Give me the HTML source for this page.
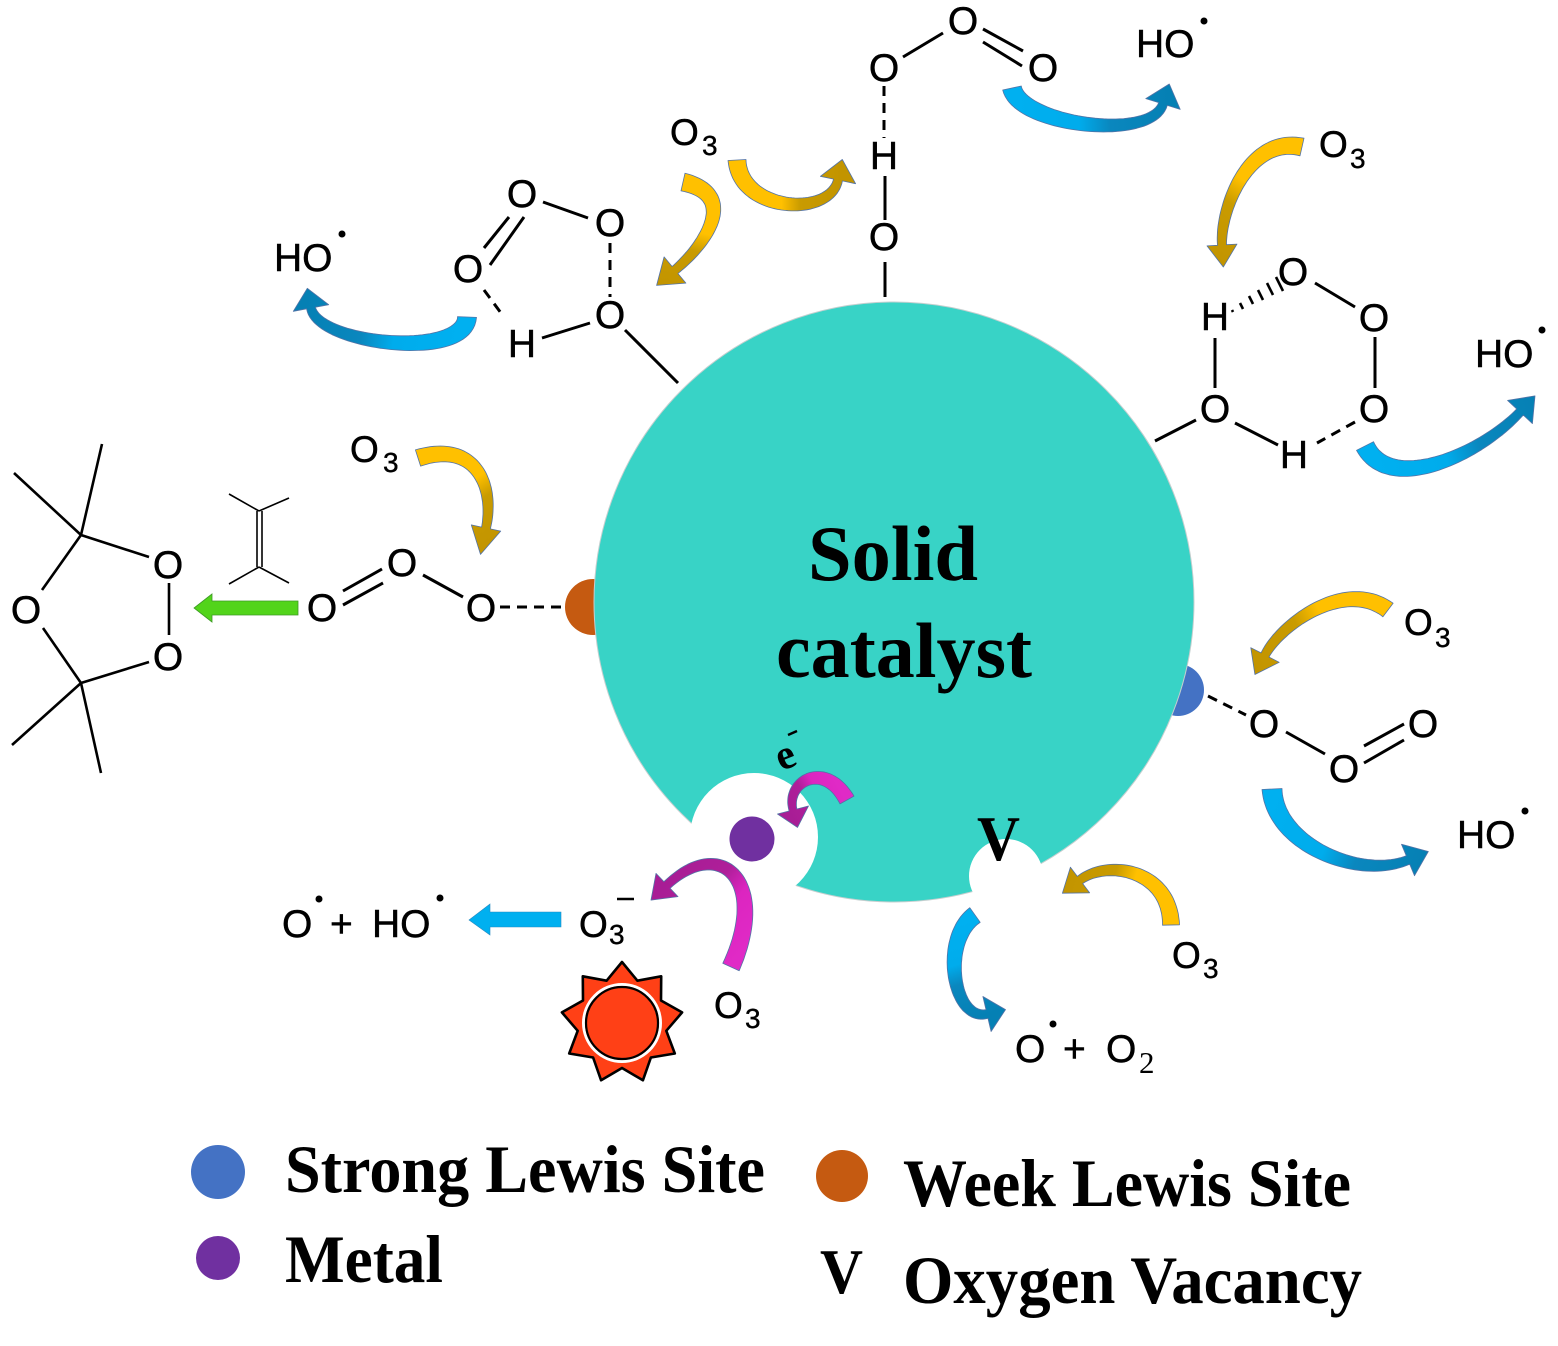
<!DOCTYPE html>
<html><head><meta charset="utf-8">
<style>
html,body{margin:0;padding:0;background:#fff;}
svg{display:block;}
.c{font-family:"Liberation Sans",Arial,sans-serif;font-size:39px;fill:#000;stroke:#000;stroke-width:0.5;}
.o{font-family:"Liberation Sans",Arial,sans-serif;font-size:37px;fill:#000;stroke:#000;stroke-width:0.5;}
.s{font-family:"Liberation Sans",Arial,sans-serif;font-size:28px;fill:#000;stroke:#000;stroke-width:0.4;}
.t{font-family:"Liberation Serif","Times New Roman",serif;font-weight:bold;fill:#000;}
.l{stroke:#000;stroke-width:3;fill:none;}
.d{stroke:#000;stroke-width:3;fill:none;stroke-dasharray:10 7;}
.th{stroke:#000;stroke-width:2.6;fill:none;}
.tn{stroke:#000;stroke-width:1.6;fill:none;}
</style></head><body>
<svg id="s" width="1558" height="1346" viewBox="0 0 1558 1346" xmlns="http://www.w3.org/2000/svg">
<defs id="dfs"></defs>
<rect width="1558" height="1346" fill="#fff"/>

<!-- Lewis site dots under catalyst -->
<circle cx="593" cy="607" r="28" fill="#C55A11"/>
<circle cx="1178" cy="690" r="26" fill="#4472C4"/>

<!-- catalyst -->
<circle cx="894" cy="602" r="300" fill="#38D3C6" stroke="#c4cfcf" stroke-width="1"/>
<circle cx="754" cy="837" r="64" fill="#fff"/>
<circle cx="1006" cy="876" r="37" fill="#fff"/>
<circle cx="752" cy="839" r="22.5" fill="#7030A0"/>

<text class="t" x="808" y="580" font-size="78" textLength="170" lengthAdjust="spacingAndGlyphs">Solid</text>
<text class="t" x="776" y="677" font-size="78" textLength="256" lengthAdjust="spacingAndGlyphs">catalyst</text>
<text class="t" x="977" y="860" font-size="64" textLength="43" lengthAdjust="spacingAndGlyphs">V</text>
<text class="t" x="776" y="768" font-size="42" transform="rotate(-22 787 756)">e</text>
<line x1="788" y1="735" x2="797" y2="731" stroke="#000" stroke-width="2.4"/>

<!-- Top chain -->
<line class="l" x1="885" y1="262" x2="885" y2="297"/>
<line class="l" x1="885" y1="176" x2="885" y2="220"/>
<line class="d" x1="884" y1="86" x2="884" y2="138"/>
<line class="l" x1="903" y1="57" x2="943" y2="33"/>
<line class="l" x1="983" y1="29" x2="1023" y2="51"/>
<line class="l" x1="983" y1="42" x2="1022" y2="66"/>
<text class="c" x="884" y="81" text-anchor="middle">O</text>
<text class="c" x="884" y="169" text-anchor="middle">H</text>
<text class="c" x="884" y="250" text-anchor="middle">O</text>
<text class="c" x="963" y="34" text-anchor="middle">O</text>
<text class="c" x="1043" y="81" text-anchor="middle">O</text>
<text class="c" x="1136" y="57">HO</text>
<circle cx="1204" cy="21" r="3.5" fill="#000"/>

<!-- Top-left ring -->
<line class="l" x1="543" y1="202" x2="588" y2="218"/>
<line class="l" x1="484" y1="248" x2="509" y2="217"/>
<line class="l" x1="490" y1="265" x2="524" y2="217"/>
<line class="d" x1="610" y1="243" x2="610" y2="297"/>
<line class="d" x1="484" y1="290" x2="501" y2="313"/>
<line class="l" x1="542" y1="338" x2="590" y2="323"/>
<line class="l" x1="625" y1="330" x2="678" y2="383"/>
<text class="c" x="522" y="207" text-anchor="middle">O</text>
<text class="c" x="610" y="236" text-anchor="middle">O</text>
<text class="c" x="468" y="282" text-anchor="middle">O</text>
<text class="c" x="610" y="328" text-anchor="middle">O</text>
<text class="c" x="522" y="357" text-anchor="middle">H</text>
<text class="c" x="274" y="271">HO</text>
<circle cx="342" cy="234" r="3.5" fill="#000"/>
<text class="o" x="670" y="145">O</text><text class="s" x="702" y="155">3</text>

<!-- Top-right ring -->
<line class="l" x1="1315" y1="283" x2="1355" y2="307"/>
<line class="l" x1="1375" y1="337" x2="1375" y2="388"/>
<line class="d" x1="1355" y1="422" x2="1317" y2="443"/>
<line class="l" x1="1278" y1="445" x2="1235" y2="423"/>
<line class="l" x1="1215" y1="338" x2="1215" y2="388"/>
<line class="l" x1="1196" y1="420" x2="1155" y2="441"/>
<g stroke="#000" stroke-width="2.6">
<line x1="1232" y1="310" x2="1233" y2="312"/>
<line x1="1240" y1="303" x2="1243" y2="309"/>
<line x1="1249" y1="296" x2="1253" y2="304"/>
<line x1="1258" y1="290" x2="1263" y2="300"/>
<line x1="1267" y1="283" x2="1273" y2="295"/>
<line x1="1276" y1="277" x2="1283" y2="291"/>
</g>
<text class="c" x="1293" y="285" text-anchor="middle">O</text>
<text class="c" x="1374" y="331" text-anchor="middle">O</text>
<text class="c" x="1374" y="422" text-anchor="middle">O</text>
<text class="c" x="1215" y="422" text-anchor="middle">O</text>
<text class="c" x="1215" y="330" text-anchor="middle">H</text>
<text class="c" x="1294" y="468" text-anchor="middle">H</text>
<text class="c" x="1475" y="367">HO</text>
<circle cx="1542" cy="330" r="3.5" fill="#000"/>
<text class="o" x="1319" y="157">O</text><text class="s" x="1350" y="168">3</text>

<!-- Left: weak lewis site -->
<line class="l" x1="423" y1="575" x2="463" y2="597"/>
<line class="l" x1="343" y1="591" x2="382" y2="569"/>
<line class="l" x1="343" y1="605" x2="383" y2="583"/>
<line class="d" x1="500" y1="607" x2="563" y2="607"/>
<text class="c" x="481" y="621" text-anchor="middle">O</text>
<text class="c" x="402" y="576" text-anchor="middle">O</text>
<text class="c" x="322" y="621" text-anchor="middle">O</text>
<text class="o" x="350" y="462">O</text><text class="s" x="383" y="472">3</text>
<!-- alkene -->
<line class="tn" x1="257" y1="511" x2="257" y2="567"/>
<line class="tn" x1="262" y1="511" x2="262" y2="567"/>
<line class="tn" x1="259" y1="511" x2="229" y2="494"/>
<line class="tn" x1="259" y1="511" x2="289" y2="498"/>
<line class="tn" x1="259" y1="567" x2="229" y2="584"/>
<line class="tn" x1="259" y1="567" x2="289" y2="583"/>
<!-- green arrow -->
<polygon points="298,601 212,601 212,594 194,608 212,622 212,615 298,615" fill="#52D41A" stroke="#3c9a24" stroke-width="0.8"/>
<!-- ozonide -->
<line class="th" x1="81" y1="535" x2="149" y2="557"/>
<line class="th" x1="81" y1="535" x2="42" y2="590"/>
<line class="th" x1="81" y1="535" x2="14" y2="473"/>
<line class="th" x1="81" y1="535" x2="102" y2="444"/>
<line class="th" x1="169" y1="583" x2="169" y2="635"/>
<line class="th" x1="81" y1="683" x2="149" y2="662"/>
<line class="th" x1="81" y1="683" x2="43" y2="628"/>
<line class="th" x1="81" y1="683" x2="12" y2="745"/>
<line class="th" x1="81" y1="683" x2="101" y2="773"/>
<text class="c" x="168" y="578" text-anchor="middle">O</text>
<text class="c" x="168" y="670" text-anchor="middle">O</text>
<text class="c" x="26" y="623" text-anchor="middle">O</text>

<!-- Right: strong lewis site -->
<line class="d" x1="1208" y1="696" x2="1246" y2="715"/>
<line class="l" x1="1286" y1="732" x2="1325" y2="754"/>
<line class="l" x1="1364" y1="746" x2="1404" y2="724"/>
<line class="l" x1="1364" y1="763" x2="1404" y2="740"/>
<text class="c" x="1264" y="737" text-anchor="middle">O</text>
<text class="c" x="1344" y="782" text-anchor="middle">O</text>
<text class="c" x="1423" y="737" text-anchor="middle">O</text>
<text class="o" x="1404" y="635">O</text><text class="s" x="1435" y="647">3</text>
<text class="c" x="1457" y="848">HO</text>
<circle cx="1525" cy="811" r="3.5" fill="#000"/>

<!-- Bottom left -->
<text class="o" x="579" y="937">O</text><text class="s" x="609" y="944">3</text>
<line x1="617" y1="899" x2="634" y2="899" stroke="#000" stroke-width="2.5"/>
<polygon points="561,912 490,912 490,904 469,920 490,935 490,927 561,927" fill="#00B0F0" stroke="#2a8ac0" stroke-width="0.6"/>
<text class="c" x="282" y="937">O</text>
<circle cx="319" cy="899" r="3.5" fill="#000"/>
<text class="c" x="330" y="937">+</text>
<text class="c" x="372" y="937">HO</text>
<circle cx="440" cy="898" r="3.5" fill="#000"/>
<g id="sun"></g>
<text class="o" x="714" y="1018">O</text><text class="s" x="745" y="1028">3</text>

<!-- Bottom right -->
<text class="o" x="1172" y="968">O</text><text class="s" x="1203" y="978">3</text>
<text class="c" x="1015" y="1062">O</text>
<circle cx="1053" cy="1024" r="3.5" fill="#000"/>
<text class="c" x="1063" y="1062">+</text>
<text class="c" x="1106" y="1062">O</text>
<text x="1139" y="1073" font-family="Liberation Serif, serif" font-size="31">2</text>

<g id="arr"></g>

<!-- Legend -->
<circle cx="218" cy="1172" r="27" fill="#4472C4"/>
<circle cx="842" cy="1176" r="26" fill="#C55A11"/>
<circle cx="218" cy="1258" r="22" fill="#7030A0"/>
<text class="t" x="285" y="1192" font-size="68" textLength="480" lengthAdjust="spacingAndGlyphs">Strong Lewis Site</text>
<text class="t" x="903" y="1206" font-size="68" textLength="448" lengthAdjust="spacingAndGlyphs">Week Lewis Site</text>
<text class="t" x="285" y="1282" font-size="68" textLength="158" lengthAdjust="spacingAndGlyphs">Metal</text>
<text class="t" x="820" y="1293" font-size="64" textLength="43" lengthAdjust="spacingAndGlyphs">V</text>
<text class="t" x="903" y="1303" font-size="68" textLength="459" lengthAdjust="spacingAndGlyphs">Oxygen Vacancy</text>
</svg>
<script>
(function(){
var NS='http://www.w3.org/2000/svg';
var g=document.getElementById('arr'),defs=document.getElementById('dfs');
var S={
y:[[0,'#FFC000'],[0.42,'#FFC000'],[0.6,'#C99B00'],[1,'#C29400']],
b:[[0,'#00B0F0'],[0.42,'#00ACEC'],[0.62,'#0A87BE'],[1,'#0580B4']],
m:[[0,'#E02AC6'],[0.38,'#DC25C0'],[0.62,'#AF1F9A'],[1,'#A81D95']]
};
function bz(p,t){var u=1-t,a=u*u*u,b=3*u*u*t,c=3*u*t*t,d=t*t*t;return [a*p[0][0]+b*p[1][0]+c*p[2][0]+d*p[3][0],a*p[0][1]+b*p[1][1]+c*p[2][1]+d*p[3][1]];}
function db(p,t){var u=1-t;return [3*u*u*(p[1][0]-p[0][0])+6*u*t*(p[2][0]-p[1][0])+3*t*t*(p[3][0]-p[2][0]),3*u*u*(p[1][1]-p[0][1])+6*u*t*(p[2][1]-p[1][1])+3*t*t*(p[3][1]-p[2][1])];}
var k=0;
function A(p,w0,w1,L,H,sc){
 var N=48,lf=[],rt=[],i,t,q,d,l,nx,ny,w;
 for(i=0;i<=N;i++){t=i/N;q=bz(p,t);d=db(p,t);l=Math.sqrt(d[0]*d[0]+d[1]*d[1])||1;nx=-d[1]/l;ny=d[0]/l;w=(w0+(w1-w0)*t)/2;lf.push([q[0]+nx*w,q[1]+ny*w]);rt.push([q[0]-nx*w,q[1]-ny*w]);}
 d=[p[3][0]-p[2][0],p[3][1]-p[2][1]];l=Math.sqrt(d[0]*d[0]+d[1]*d[1]);var ux=d[0]/l,uy=d[1]/l;nx=-uy;ny=ux;
 var e=p[3],tip=[e[0]+ux*L,e[1]+uy*L];
 var pts=lf.concat([[e[0]+nx*H,e[1]+ny*H],tip,[e[0]-nx*H,e[1]-ny*H]]).concat(rt.reverse());
 var id='ag'+(k++);
 var lg=document.createElementNS(NS,'linearGradient');lg.setAttribute('id',id);lg.setAttribute('gradientUnits','userSpaceOnUse');
 lg.setAttribute('x1',p[0][0]);lg.setAttribute('y1',p[0][1]);lg.setAttribute('x2',tip[0]);lg.setAttribute('y2',tip[1]);
 S[sc].forEach(function(s){var st=document.createElementNS(NS,'stop');st.setAttribute('offset',s[0]);st.setAttribute('stop-color',s[1]);lg.appendChild(st);});
 defs.appendChild(lg);
 var pa=document.createElementNS(NS,'path');
 pa.setAttribute('d','M'+pts.map(function(a){return a[0].toFixed(1)+','+a[1].toFixed(1);}).join('L')+'Z');
 pa.setAttribute('fill','url(#'+id+')');pa.setAttribute('stroke','#5373a6');pa.setAttribute('stroke-width','0.8');pa.setAttribute('stroke-linejoin','round');
 g.appendChild(pa);
}
// blue arrows
A([[1012,88],[1020,125],[1151,142],[1163,104]],19,9,21,18,'b');
A([[467,317],[465,360],[318,345],[311,308]],19,9,20,18,'b');
A([[1365,446],[1390,495],[1480,455],[1520,412]],19,9,22,17,'b');
A([[1272,789],[1275,845],[1360,880],[1408,860]],20,9,22,17,'b');
A([[975,915],[940,940],[953,1022],[987,1014]],18,9,19,18,'b');
// yellow arrows
A([[683,182],[740,195],[705,245],[675,270]],18,9,24,17,'y');
A([[737,160],[740,212],[830,218],[838,180]],18,9,21,18,'y');
A([[1302,147],[1248,135],[1220,210],[1222,245]],18,9,22,15,'y');
A([[418,458],[475,440],[495,485],[486,528]],17,9,27,15,'y');
A([[1388,610],[1345,578],[1281,624],[1265,655]],17,9,22,16,'y');
A([[1171,925],[1170,870],[1108,859],[1080,880]],17,9,22,16,'y');
// magenta arrows
A([[847,800],[825,760],[785.5,781],[793,810]],16,8,18,16,'m');
A([[731,967],[770,880],[720,835],[667,885]],18,9,22,16,'m');
// sun
var sun=document.getElementById('sun');
var cx=622,cy=1023,pts=[];
for(var i=0;i<9;i++){
 var a=(-90+i*40)*Math.PI/180, b=(-90+i*40+20)*Math.PI/180;
 pts.push([cx+61*Math.cos(a),cy+61*Math.sin(a)]);
 pts.push([cx+45*Math.cos(b),cy+45*Math.sin(b)]);
}
var pg=document.createElementNS(NS,'polygon');
pg.setAttribute('points',pts.map(function(p){return p[0].toFixed(1)+','+p[1].toFixed(1);}).join(' '));
pg.setAttribute('fill','#FF4016');pg.setAttribute('stroke','#000');pg.setAttribute('stroke-width','2.6');pg.setAttribute('stroke-linejoin','round');
sun.appendChild(pg);
var c1=document.createElementNS(NS,'circle');c1.setAttribute('cx',cx);c1.setAttribute('cy',cy);c1.setAttribute('r','38.5');c1.setAttribute('fill','none');c1.setAttribute('stroke','#fff');c1.setAttribute('stroke-width','3');sun.appendChild(c1);
var c2=document.createElementNS(NS,'circle');c2.setAttribute('cx',cx);c2.setAttribute('cy',cy);c2.setAttribute('r','36');c2.setAttribute('fill','#FF4016');c2.setAttribute('stroke','#000');c2.setAttribute('stroke-width','2.2');sun.appendChild(c2);
})();
</script>
</body></html>
